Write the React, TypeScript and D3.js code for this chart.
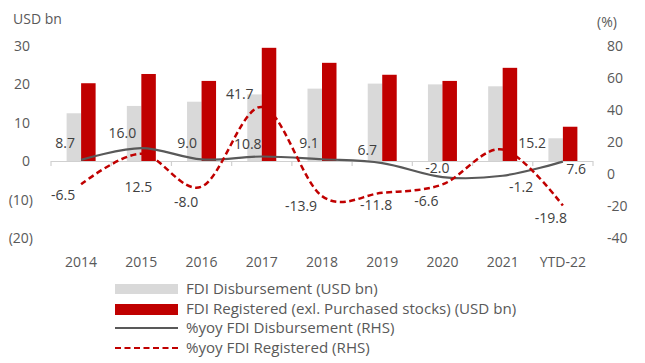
import React from "react";
import * as d3 from "d3";

const categories = ["2014", "2015", "2016", "2017", "2018", "2019", "2020", "2021", "YTD-22"];
const fdiDisbursement = [12.4, 14.3, 15.4, 17.3, 18.8, 20.1, 19.9, 19.4, 5.9];
const fdiRegistered = [20.2, 22.6, 20.8, 29.4, 25.5, 22.4, 20.8, 24.2, 8.9];
const yoyDisbursement = [8.7, 16.0, 9.0, 10.8, 9.1, 6.7, -2.0, -1.2, 7.6];
const yoyRegistered = [-6.5, 12.5, -8.0, 41.7, -13.9, -11.8, -6.6, 15.2, -19.8];
const leftTicks = [30, 20, 10, 0, -10, -20];
const rightTicks = [80, 60, 40, 20, 0, -20, -40];
const legendLabels = [
  "FDI Disbursement (USD bn)",
  "FDI Registered (exl. Purchased stocks) (USD bn)",
  "%yoy FDI Disbursement (RHS)",
  "%yoy FDI Registered (RHS)",
];

// label placement offsets (layout, relative to each point)
const disbLabelOffset: [number, number][] = [
  [-16, -17], [-19, -15], [-14.5, -16], [-14, -12.5], [-13, -16], [-15, -13], [-5, -9], [18.5, 11.3], [13.3, 7.4],
];
const regLabelOffset: [number, number][] = [
  [-18, 11], [-3, 33], [-15.5, 15], [-22, -13], [-21, 10], [-6, 12], [-16, 17], [29.5, -6], [-12, 12.4],
];

const W = 645;
const H = 363;
const FONT = "'Open Sans', sans-serif";
const TEXT = "#595959";
const RED = "#c00000";
const GREY_BAR = "#d9d9d9";
const LINE_GREY = "#595959";

export default function App() {
  const x = d3.scaleBand<string>().domain(categories).range([51, 593]);
  const yL = d3.scaleLinear().domain([-20, 30]).range([238, 45.5]);
  const yR = d3.scaleLinear().domain([-40, 80]).range([238, 45.5]);
  const barW = 14.5;
  const cx = (c: string) => (x(c) as number) + x.bandwidth() / 2;

  const line = d3
    .line<number>()
    .x((_, i) => cx(categories[i]))
    .y((d) => yR(d))
    .curve(d3.curveCardinal.tension(0));

  const fmtLeft = (v: number) => (v < 0 ? `(${Math.abs(v)})` : `${v}`);

  return (
    <svg
      width={W}
      height={H}
      style={{ position: "absolute", left: 0, top: 0, background: "#fff" }}
      fontFamily={FONT}
    >
      <rect width={W} height={H} fill="#fff" />
      {/* axis titles */}
      <text x={13} y={24} fontSize={14} fill={TEXT}>USD bn</text>
      <text x={597} y={27} fontSize={14} fill={TEXT}>(%)</text>

      {/* left ticks */}
      {leftTicks.map((t) => (
        <text
          key={"l" + t}
          x={t < 0 ? 33 : 30}
          y={yL(t)}
          dy="0.36em"
          textAnchor="end"
          fontSize={14}
          fill={TEXT}
        >
          {fmtLeft(t)}
        </text>
      ))}
      {/* right ticks */}
      {rightTicks.map((t) => (
        <text key={"r" + t} x={607} y={yR(t)} dy="0.36em" textAnchor="start" fontSize={14} fill={TEXT}>
          {t}
        </text>
      ))}

      {/* bars */}
      {categories.map((c, i) => (
        <g key={"b" + c}>
          <rect
            x={cx(c) - barW}
            y={yL(fdiDisbursement[i])}
            width={barW}
            height={yL(0) - yL(fdiDisbursement[i])}
            fill={GREY_BAR}
          />
          <rect
            x={cx(c)}
            y={yL(fdiRegistered[i])}
            width={barW}
            height={yL(0) - yL(fdiRegistered[i])}
            fill={RED}
          />
        </g>
      ))}

      {/* zero axis */}
      <line x1={51} x2={593} y1={yL(0) + 0.5} y2={yL(0) + 0.5} stroke="#d0d0d0" strokeWidth={1.2} />
      {d3.range(categories.length + 1).map((i) => {
        const xx = 51 + i * x.step();
        return <line key={"t" + i} x1={xx} x2={xx} y1={yL(0)} y2={yL(0) + 5} stroke="#d0d0d0" strokeWidth={1.2} />;
      })}

      {/* lines */}
      <path d={line(yoyDisbursement) || ""} fill="none" stroke={LINE_GREY} strokeWidth={2.2} />
      <path d={line(yoyRegistered) || ""} fill="none" stroke={RED} strokeWidth={2.5} strokeDasharray="6,3.5" />

      {/* data labels */}
      {yoyDisbursement.map((v, i) => (
        <text
          key={"dl" + i}
          x={cx(categories[i]) + disbLabelOffset[i][0]}
          y={yR(v) + disbLabelOffset[i][1]}
          dy="0.36em"
          textAnchor="middle"
          fontSize={14}
          fill="#404040"
        >
          {v.toFixed(1)}
        </text>
      ))}
      {yoyRegistered.map((v, i) => (
        <text
          key={"rl" + i}
          x={cx(categories[i]) + regLabelOffset[i][0]}
          y={yR(v) + regLabelOffset[i][1]}
          dy="0.36em"
          textAnchor="middle"
          fontSize={14}
          fill="#404040"
        >
          {v.toFixed(1)}
        </text>
      ))}

      {/* category labels */}
      {categories.map((c) => (
        <text key={"c" + c} x={cx(c)} y={267} textAnchor="middle" fontSize={14} fill={TEXT}>
          {c}
        </text>
      ))}

      {/* legend */}
      <g>
        <rect x={115} y={284} width={63} height={10} fill={GREY_BAR} />
        <rect x={115} y={304} width={63} height={11} fill={RED} />
        <line x1={115} x2={178} y1={328} y2={328} stroke={LINE_GREY} strokeWidth={2.2} />
        <line x1={115} x2={178} y1={348} y2={348} stroke={RED} strokeWidth={2.2} strokeDasharray="6,3.5" />
        {legendLabels.map((l, i) => (
          <text key={"lg" + i} x={186} y={289 + i * 19.5} dy="0.36em" fontSize={15.1} fill={TEXT}>
            {l}
          </text>
        ))}
      </g>
    </svg>
  );
}
